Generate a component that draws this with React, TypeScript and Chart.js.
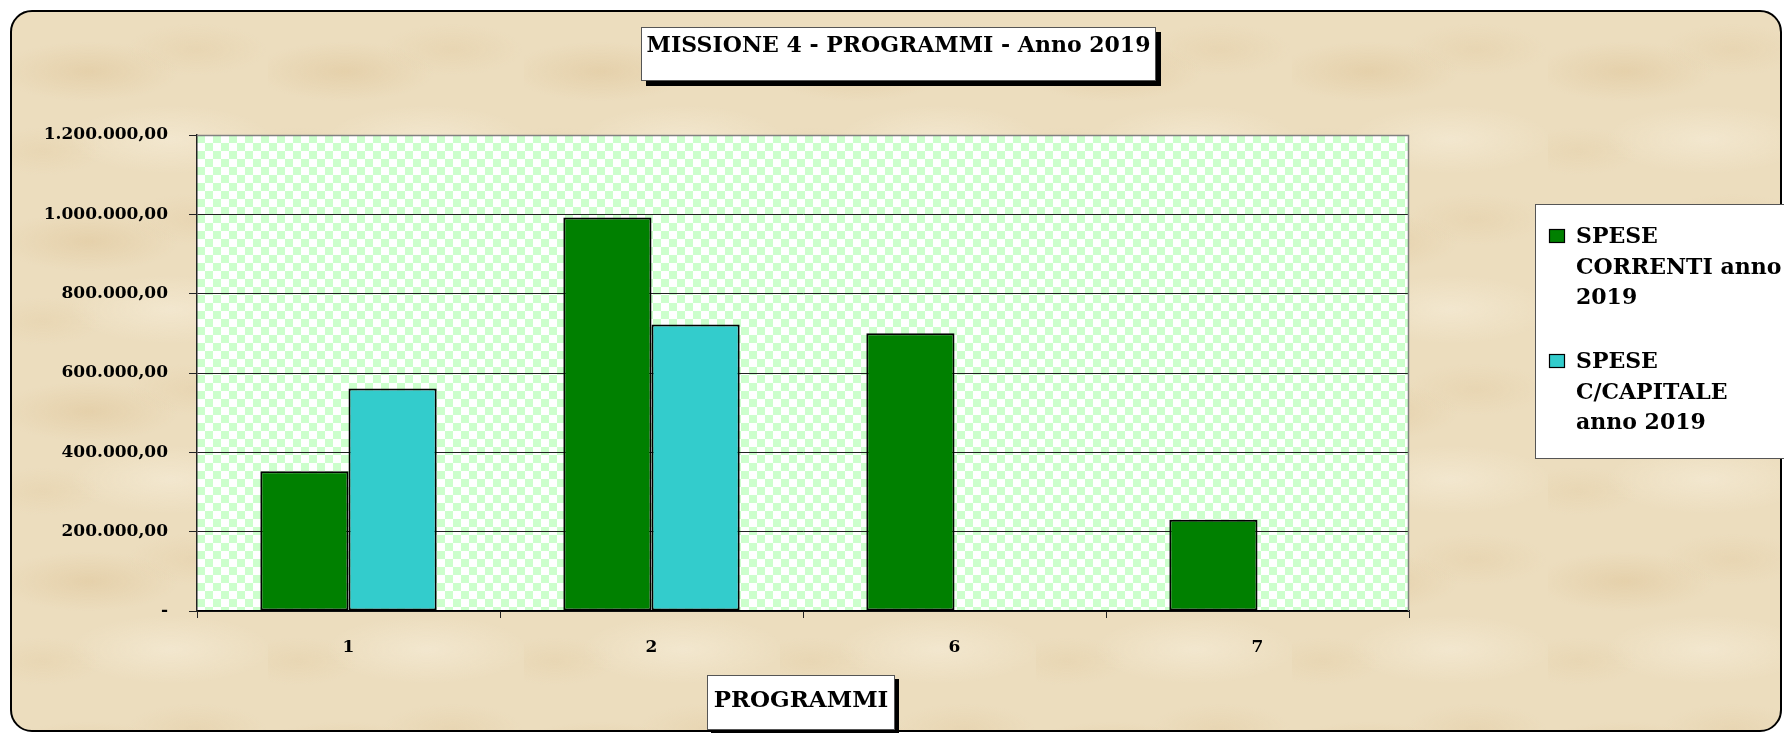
import React, { useEffect, useRef } from 'react';
import { Chart, registerables } from 'chart.js';

Chart.register(...registerables);

const categories = ['1', '2', '6', '7'];
const speseCorrenti = [352000, 992000, 700000, 230000];
const speseCapitale = [561000, 722000, null, null];
const yTickValues = [0, 200000, 400000, 600000, 800000, 1000000, 1200000];
const yTickLabels = ['-', '200.000,00', '400.000,00', '600.000,00', '800.000,00', '1.000.000,00', '1.200.000,00'];
const seriesLabels = ['SPESE CORRENTI anno 2019', 'SPESE C/CAPITALE anno 2019'];
const legendLines = [['SPESE', 'CORRENTI anno', '2019'], ['SPESE', 'C/CAPITALE', 'anno 2019']];
const chartTitle = 'MISSIONE 4 - PROGRAMMI - Anno 2019';
const xAxisTitle = 'PROGRAMMI';
const seriesColors = ['#008000', '#33CCCC'];

const FONT = '"DejaVu Serif", "Liberation Serif", serif';

function makeChecker(): CanvasPattern | string {
  const c = document.createElement('canvas');
  c.width = 16;
  c.height = 16;
  const g = c.getContext('2d');
  if (!g) return '#e6ffe6';
  g.fillStyle = '#ffffff';
  g.fillRect(0, 0, 16, 16);
  g.fillStyle = '#ccffcc';
  g.fillRect(0, 0, 8, 8);
  g.fillRect(8, 8, 8, 8);
  const p = g.createPattern(c, 'repeat');
  return p || '#e6ffe6';
}

function drawShadowBox(ctx: CanvasRenderingContext2D, x: number, y: number, w: number, h: number, sh: number) {
  if (sh > 0) {
    ctx.fillStyle = '#000';
    ctx.fillRect(x + sh, y + sh, w, h);
  }
  ctx.fillStyle = '#fff';
  ctx.fillRect(x, y, w, h);
  ctx.strokeStyle = '#555';
  ctx.lineWidth = 1;
  ctx.strokeRect(x + 0.5, y + 0.5, w - 1, h - 1);
}

export default function App() {
  const ref = useRef<HTMLCanvasElement | null>(null);

  useEffect(() => {
    const canvas = ref.current;
    if (!canvas) return;
    const checker = makeChecker();

    const decor = {
      id: 'decor',
      beforeDraw(chart: any) {
        const { ctx, chartArea: a } = chart;
        ctx.save();
        ctx.translate(a.left, a.top);
        ctx.fillStyle = checker;
        ctx.fillRect(0, 0, a.right - a.left, a.bottom - a.top);
        ctx.restore();
      },
      beforeDatasetsDraw(chart: any) {
        const { ctx, chartArea: a } = chart;
        ctx.save();
        ctx.strokeStyle = '#808080';
        ctx.lineWidth = 1.5;
        ctx.beginPath();
        ctx.moveTo(a.left, a.top + 0.5);
        ctx.lineTo(a.right - 0.5, a.top + 0.5);
        ctx.lineTo(a.right - 0.5, a.bottom);
        ctx.stroke();
        ctx.restore();
      },
      afterDraw(chart: any) {
        const ctx: CanvasRenderingContext2D = chart.ctx;
        ctx.save();
        // Title box
        drawShadowBox(ctx, 641, 27, 515, 54, 5);
        ctx.fillStyle = '#000';
        ctx.font = `bold 22px ${FONT}`;
        ctx.textAlign = 'center';
        ctx.textBaseline = 'alphabetic';
        ctx.fillText(chartTitle, 898.5, 52);
        // X axis title box
        drawShadowBox(ctx, 707, 675, 188, 55, 4);
        ctx.fillStyle = '#000';
        ctx.font = `bold 23px ${FONT}`;
        ctx.fillText(xAxisTitle, 801, 707);
        // Legend
        drawShadowBox(ctx, 1535, 204, 300, 255, 0);
        ctx.textAlign = 'left';
        ctx.font = `bold 22px ${FONT}`;
        const datasets = chart.data.datasets;
        datasets.forEach((ds: any, i: number) => {
          const base = 243 + i * 125;
          ctx.fillStyle = ds.backgroundColor;
          ctx.fillRect(1549, base - 14, 16, 14);
          ctx.strokeStyle = '#000';
          ctx.lineWidth = 1.2;
          ctx.strokeRect(1549.5, base - 13.5, 15, 13);
          ctx.fillStyle = '#000';
          legendLines[i].forEach((line, j) => {
            ctx.fillText(line, 1576, base + j * 30.5);
          });
        });
        ctx.restore();
      },
    };

    const chart = new Chart(canvas, {
      type: 'bar',
      data: {
        labels: categories,
        datasets: [
          {
            label: seriesLabels[0],
            data: speseCorrenti,
            backgroundColor: seriesColors[0],
            borderColor: '#000',
            borderWidth: 2,
            borderSkipped: false,
          },
          {
            label: seriesLabels[1],
            data: speseCapitale,
            backgroundColor: seriesColors[1],
            borderColor: '#000',
            borderWidth: 2,
            borderSkipped: false,
          },
        ],
      },
      options: {
        responsive: false,
        animation: false,
        devicePixelRatio: 1,
        layout: { padding: { left: 0, top: 135, right: 375, bottom: 72 } },
        datasets: { bar: { barPercentage: 1, categoryPercentage: 0.582 } },
        plugins: {
          legend: { display: false },
          title: { display: false },
          tooltip: { enabled: false },
        },
        scales: {
          x: {
            afterFit(scale: any) {
              scale.height = 50;
            },
            grid: {
              offset: true,
              drawOnChartArea: false,
              drawTicks: true,
              tickLength: 7,
              color: '#222',
              tickColor: '#222',
            },
            border: { display: true, color: '#000', width: 1.5 },
            ticks: {
              color: '#000',
              padding: 19,
              font: { family: FONT, size: 17, weight: 'bold' },
            },
          },
          y: {
            min: 0,
            max: 1200000,
            afterFit(scale: any) {
              scale.width = 197;
            },
            afterBuildTicks(scale: any) {
              scale.ticks = yTickValues.map((v) => ({ value: v }));
            },
            grid: {
              drawTicks: true,
              tickLength: 8,
              color: (c: any) => (c.tick && c.tick.value === 1200000 ? '#808080' : '#222'),
              tickColor: '#222',
              lineWidth: 1,
            },
            border: { display: true, color: '#222', width: 1.5 },
            ticks: {
              color: '#000',
              padding: 21,
              font: { family: FONT, size: 17, weight: 'bold' },
              callback: (v: any) => {
                const i = yTickValues.indexOf(Number(v));
                return i >= 0 ? yTickLabels[i] : '';
              },
            },
          },
        },
      },
      plugins: [decor],
    } as any);

    return () => chart.destroy();
  }, []);

  const parchment = [
    'radial-gradient(ellipse 90px 30px at 30% 35%, rgba(214,182,130,0.32), rgba(214,182,130,0) 100%)',
    'radial-gradient(ellipse 70px 26px at 72% 22%, rgba(220,192,145,0.25), rgba(220,192,145,0) 100%)',
    'radial-gradient(ellipse 100px 34px at 62% 75%, rgba(250,243,226,0.45), rgba(250,243,226,0) 100%)',
    'radial-gradient(ellipse 60px 24px at 12% 82%, rgba(222,196,150,0.25), rgba(222,196,150,0) 100%)',
  ].join(',');

  return (
    <div style={{ position: 'absolute', left: 0, top: 0, width: 1784, height: 733, background: '#fff', overflow: 'hidden' }}>
      <div
        style={{
          position: 'absolute',
          left: 10,
          top: 10,
          width: 1772,
          height: 722,
          boxSizing: 'border-box',
          border: '2.5px solid #000',
          borderRadius: 22,
          backgroundColor: '#ECDDBE',
          backgroundImage: parchment,
          backgroundSize: '256px 170px',
        }}
      />
      <canvas ref={ref} width={1784} height={733} style={{ position: 'absolute', left: 0, top: 0, display: 'block' }} />
    </div>
  );
}
